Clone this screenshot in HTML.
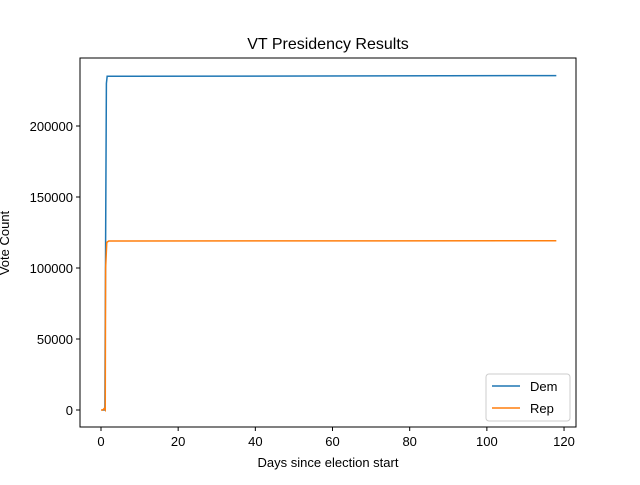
<!DOCTYPE html>
<html><head><meta charset="utf-8"><style>
body{margin:0;background:#fff;}
svg text{font-family:"Liberation Sans","DejaVu Sans",sans-serif;fill:#000;}
</style></head><body>
<svg id="chart" width="640" height="480" xmlns="http://www.w3.org/2000/svg">
<rect width="640" height="480" fill="#fff"/>
<text x="328" y="49" font-size="16" text-anchor="middle">VT Presidency Results</text>
<g id="xt"></g>
<g id="yt"></g>
<g id="series"></g>
<rect x="80" y="58" width="496" height="369" fill="none" stroke="#000" stroke-width="1"/>
<text x="328" y="467" font-size="13" text-anchor="middle">Days since election start</text>
<text transform="translate(9,243) rotate(-90)" font-size="13" text-anchor="middle">Vote Count</text>
<g>
<rect x="486" y="374" width="84" height="47" rx="3" fill="#fff" stroke="#ccc"/>
<line x1="492" y1="386" x2="520" y2="386" stroke="#1f77b4" stroke-width="1.5"/>
<text x="530" y="391" font-size="13">Dem</text>
<line x1="492" y1="408" x2="520" y2="408" stroke="#ff7f0e" stroke-width="1.5"/>
<text x="530" y="413" font-size="13">Rep</text>
</g>
</svg>
<script>
const xTicks=[0,20,40,60,80,100,120];
const yTicks=[0,50000,100000,150000,200000];
const demX=[0.3,1.0,1.2,1.4,1.6,118];
const demY=[0,0,120000,230000,235000,235500];
const repX=[0,0.5,0.8,1.1,1.2,1.5,2,118];
const repY=[0,0,1000,0,100000,118000,119000,119200];
const X0=-5.44,X1=123.1,Y0=-11972,Y1=247887;
const sx=v=>80+(v-X0)/(X1-X0)*496;
const sy=v=>427-(v-Y0)/(Y1-Y0)*369;
const NS="http://www.w3.org/2000/svg";
function mk(t,a,p){const e=document.createElementNS(NS,t);for(const k in a)e.setAttribute(k,a[k]);p.appendChild(e);return e;}
const xt=document.getElementById('xt'),yt=document.getElementById('yt'),sg=document.getElementById('series');
xTicks.forEach(v=>{
 const l=mk('line',{x1:sx(v),x2:sx(v),y1:427,y2:431,stroke:'#000'},xt);
 
 
 const t=mk('text',{x:sx(v),y:446,'font-size':13,'text-anchor':'middle'},xt);t.textContent=v;
 
 
});
yTicks.forEach(v=>{
 const l=mk('line',{x1:76,x2:80,y1:sy(v),y2:sy(v),stroke:'#000'},yt);
 
 
 const t=mk('text',{x:73,y:sy(v)+5,'font-size':13,'text-anchor':'end'},yt);t.textContent=v;
 
 
});
function line(xs,ys,c,n){
 const p=mk('polyline',{points:xs.map((x,i)=>sx(x)+','+sy(ys[i])).join(' '),fill:'none',stroke:c,'stroke-width':1.5},sg);
 
 
}
line(demX,demY,'#1f77b4','dem-line');
line(repX,repY,'#ff7f0e','rep-line');
</script>
</body></html>
